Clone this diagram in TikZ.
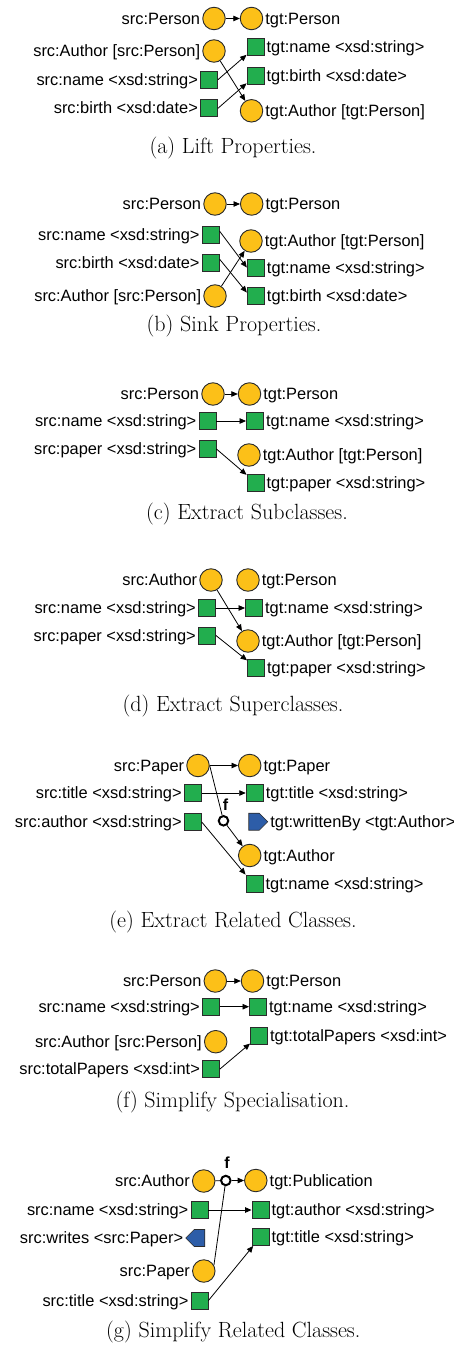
\documentclass[tikz,border=0pt]{standalone}
\usepackage{fontspec}
\newfontfamily\labfont{Liberation Sans}
\usetikzlibrary{arrows.meta,shapes.symbols}

\definecolor{clsyellow}{HTML}{FCC018}
\definecolor{propgreen}{HTML}{22AE4E}
\definecolor{relblue}{HTML}{2D5DA8}
\definecolor{edgegray}{HTML}{2B2B2B}

\begin{document}
\begin{tikzpicture}[x=1pt,y=-1pt,
  lab/.style={font=\labfont\fontsize{16.4}{19}\selectfont, inner sep=2pt,
    text height=11.3pt, text depth=0pt},
  cls/.style={circle, draw=edgegray, fill=clsyellow, line width=0.9pt,
    minimum size=22.5pt, inner sep=0pt},
  prop/.style={rectangle, draw=edgegray, fill=propgreen, line width=0.9pt,
    minimum size=17pt, inner sep=0pt},
  relE/.style={signal, signal to=east, draw=edgegray, fill=relblue,
    line width=0.6pt, minimum width=19pt, minimum height=17pt, inner sep=0pt},
  relW/.style={signal, signal to=west, draw=edgegray, fill=relblue,
    line width=0.6pt, minimum width=19pt, minimum height=17pt, inner sep=0pt},
  fun/.style={circle, draw=black, fill=white, line width=2pt,
    minimum size=9.5pt, inner sep=0pt},
  funlab/.style={font=\labfont\bfseries\fontsize{16}{18}\selectfont, inner sep=0pt},
  srclab/.style={label={[lab]left:{#1}}},
  tgtlab/.style={label={[lab]right:{#1}}},
  map/.style={-{Triangle[length=6.5pt,width=5.5pt]}, line width=0.8pt, black},
  link/.style={line width=0.8pt, black},
  subcap/.style={font=\fontsize{22}{26}\selectfont, text=black, inner sep=0pt}
]
\path[fill=white, use as bounding box] (0,0) rectangle (453,1351);

% (a) Lift Properties
\node[cls, srclab={src:Person}] (aSP) at (214,18.5) {};
\node[cls, tgtlab={tgt:Person}] (aTP) at (251.5,18.5) {};
\node[cls, srclab={src:Author [src:Person]}] (aSA) at (214,51) {};
\node[prop, srclab={src:name <xsd:string>}] (aSN) at (209,79.7) {};
\node[prop, srclab={src:birth <xsd:date>}] (aSB) at (209,108.3) {};
\node[prop, tgtlab={tgt:name <xsd:string>}] (aTN) at (255.5,47) {};
\node[prop, tgtlab={tgt:birth <xsd:date>}] (aTB) at (255.5,75.5) {};
\node[cls, tgtlab={tgt:Author [tgt:Person]}] (aTA) at (251.5,110.8) {};
\node[subcap] (aCap) at (233,148) {(a) Lift Properties.};
\draw[map] (aSP) -- (aTP);
\draw[map] (aSA) -- (aTA);
\draw[map] (aSN.east) -- (aTN);
\draw[map] (aSB.east) -- (aTB);

% (b) Sink Properties
\node[cls, srclab={src:Person}] (bSP) at (215,204) {};
\node[cls, tgtlab={tgt:Person}] (bTP) at (251.7,204) {};
\node[prop, srclab={src:name <xsd:string>}] (bSN) at (210.7,234.5) {};
\node[prop, srclab={src:birth <xsd:date>}] (bSB) at (210.7,262.5) {};
\node[cls, srclab={src:Author [src:Person]}] (bSA) at (215,296) {};
\node[cls, tgtlab={tgt:Author [tgt:Person]}] (bTA) at (251,241) {};
\node[prop, tgtlab={tgt:name <xsd:string>}] (bTN) at (255.8,267.5) {};
\node[prop, tgtlab={tgt:birth <xsd:date>}] (bTB) at (255.8,295.8) {};
\node[subcap] (bCap) at (234,326) {(b) Sink Properties.};
\draw[map] (bSP) -- (bTP);
\draw[map] (bSN.20) -- (bTN.west);
\draw[map] (bSB.20) -- (bTB.160);
\draw[map] (bSA) -- (bTA);

% (c) Extract Subclasses
\node[cls, srclab={src:Person}] (cSP) at (213,394) {};
\node[cls, tgtlab={tgt:Person}] (cTP) at (249.5,394) {};
\node[prop, srclab={src:name <xsd:string>}] (cSN) at (207.5,421) {};
\node[prop, tgtlab={tgt:name <xsd:string>}] (cTN) at (255,421) {};
\node[prop, srclab={src:paper <xsd:string>}] (cSPa) at (207.5,449) {};
\node[cls, tgtlab={tgt:Author [tgt:Person]}] (cTA) at (249,455) {};
\node[prop, tgtlab={tgt:paper <xsd:string>}] (cTPa) at (255.5,482.5) {};
\node[subcap] (cCap) at (247,514) {(c) Extract Subclasses.};
\draw[map] (cSP) -- (cTP);
\draw[map] (cSN) -- (cTN);
\draw[map] (cSPa.east) -- (cTPa);

% (d) Extract Superclasses
\node[cls, srclab={src:Author}] (dSA) at (211,580) {};
\node[cls, tgtlab={tgt:Person}] (dTP) at (248,580) {};
\node[prop, srclab={src:name <xsd:string>}] (dSN) at (207,608) {};
\node[prop, tgtlab={tgt:name <xsd:string>}] (dTN) at (254,608) {};
\node[prop, srclab={src:paper <xsd:string>}] (dSPa) at (207,635.5) {};
\node[cls, tgtlab={tgt:Author [tgt:Person]}] (dTA) at (248,641) {};
\node[prop, tgtlab={tgt:paper <xsd:string>}] (dTPa) at (256,667.5) {};
\node[subcap] (dCap) at (233,706) {(d) Extract Superclasses.};
\draw[map] (dSA) -- (dTA);
\draw[map] (dSN) -- (dTN);
\draw[map] (dSPa.east) -- (dTPa);

% (e) Extract Related Classes
\node[cls, srclab={src:Paper}] (eSPa) at (198,765.5) {};
\node[cls, tgtlab={tgt:Paper}] (eTPa) at (249.7,765.5) {};
\node[prop, srclab={src:title <xsd:string>}] (eST) at (192.8,793) {};
\node[prop, tgtlab={tgt:title <xsd:string>}] (eTT) at (254.7,793) {};
\node[prop, srclab={src:author <xsd:string>}] (eSAu) at (192.8,822) {};
\node[fun] (eF) at (223.5,820.8) {};
\node[funlab] (eFlab) at (225.5,804.5) {f};
\node[relE, tgtlab={tgt:writtenBy <tgt:Author>}] (eTW) at (254,821.7) {};
\node[cls, tgtlab={tgt:Author}] (eTA) at (249.7,855.5) {};
\node[prop, tgtlab={tgt:name <xsd:string>}] (eTN) at (254.5,883.5) {};
\node[subcap] (eCap) at (233,922) {(e) Extract Related Classes.};
\draw[map] (eSPa) -- (eTPa);
\draw[map] (eST) -- (eTT);
\draw[link] (eSPa.east) -- (eF);
\draw[map] (eF) -- (eTA);
\draw[map] (eSAu.east) -- (eTN.north west);

% (f) Simplify Specialisation
\node[cls, srclab={src:Person}] (fSP) at (215.3,981) {};
\node[cls, tgtlab={tgt:Person}] (fTP) at (252.5,981) {};
\node[prop, srclab={src:name <xsd:string>}] (fSN) at (211,1006.7) {};
\node[prop, tgtlab={tgt:name <xsd:string>}] (fTN) at (258,1006.7) {};
\node[prop, tgtlab={tgt:totalPapers <xsd:int>}] (fTT) at (259,1036) {};
\node[cls, srclab={src:Author [src:Person]}] (fSA) at (215.7,1041.7) {};
\node[prop, srclab={src:totalPapers <xsd:int>}] (fSTot) at (211,1069) {};
\node[subcap] (fCap) at (232.5,1102) {(f) Simplify Specialisation.};
\draw[map] (fSP) -- (fTP);
\draw[map] (fSN) -- (fTN);
\draw[map] (fSTot.east) -- (fTT);

% (g) Simplify Related Classes
\node[cls, srclab={src:Author}] (gSA) at (203.7,1181) {};
\node[fun] (gF) at (225.8,1180.5) {};
\node[funlab] (gFlab) at (227,1163) {f};
\node[cls, tgtlab={tgt:Publication}] (gTPub) at (255.8,1180.5) {};
\node[prop, srclab={src:name <xsd:string>}] (gSN) at (199.5,1210) {};
\node[prop, tgtlab={tgt:author <xsd:string>}] (gTAu) at (260.5,1210) {};
\node[relW, srclab={src:writes <src:Paper>}] (gSW) at (199.5,1238) {};
\node[prop, tgtlab={tgt:title <xsd:string>}] (gTT) at (260.5,1237) {};
\node[cls, srclab={src:Paper}] (gSPa) at (203.8,1271) {};
\node[prop, srclab={src:title <xsd:string>}] (gST) at (199.5,1300.5) {};
\node[subcap] (gCap) at (233.3,1332) {(g) Simplify Related Classes.};
\draw[link] (gSA) -- (gF);
\draw[map] (gF) -- (gTPub);
\draw[link] (gSPa.30) -- (gF);
\draw[map] (gSN) -- (gTAu);
\draw[map] (gST.east) -- (gTT);
\end{tikzpicture}
\end{document}
